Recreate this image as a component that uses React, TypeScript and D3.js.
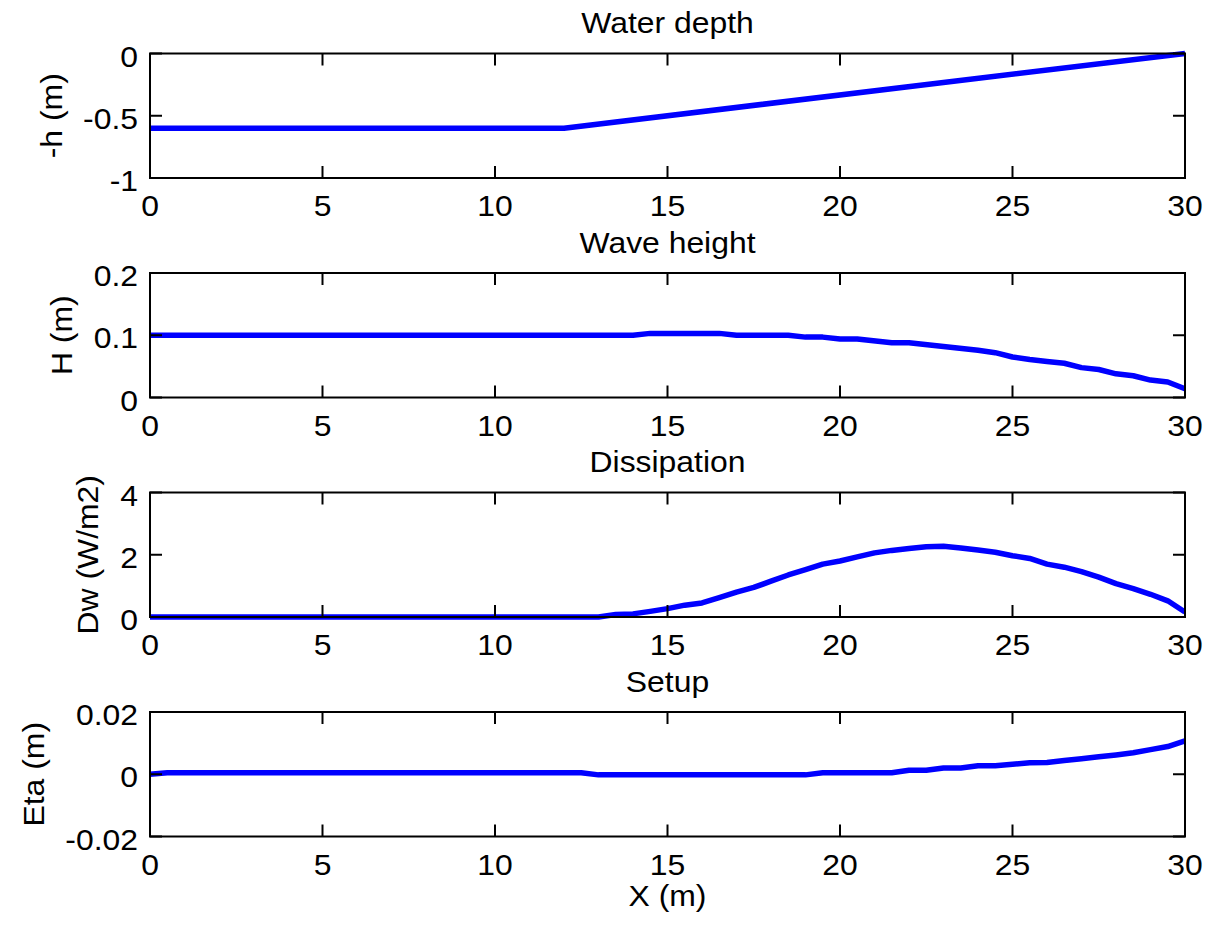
import React from "react";
import * as d3 from "d3";

// ---------- data ----------
const depthX = [0, 12, 30];
const depthY = [-0.6, -0.6, 0];

const heightX = [0, 14, 14.5, 16.5, 17, 18.5, 19, 19.5, 20, 20.5, 21.5, 22, 23, 24, 24.5, 25, 25.5, 26, 26.5, 27, 27.5, 28, 28.5, 29, 29.5, 30];
const heightY = [0.1, 0.1, 0.103, 0.103, 0.1, 0.1, 0.097, 0.097, 0.094, 0.094, 0.088, 0.088, 0.082, 0.076, 0.072, 0.065, 0.061, 0.058, 0.055, 0.048, 0.045, 0.038, 0.035, 0.028, 0.025, 0.014];

const dissX = [0, 13, 13.5, 14, 14.5, 15, 15.5, 16, 16.5, 17, 17.5, 18, 18.5, 19, 19.5, 20, 20.5, 21, 21.5, 22, 22.5, 23, 23.5, 24, 24.5, 25, 25.5, 26, 26.5, 27, 27.5, 28, 28.5, 29, 29.5, 30];
const dissY = [0, 0, 0.08, 0.1, 0.18, 0.27, 0.38, 0.45, 0.62, 0.8, 0.95, 1.15, 1.35, 1.52, 1.7, 1.8, 1.93, 2.06, 2.14, 2.2, 2.26, 2.27, 2.22, 2.15, 2.08, 1.97, 1.88, 1.7, 1.6, 1.46, 1.28, 1.07, 0.91, 0.73, 0.52, 0.16];

const setupX = [0, 0.5, 12.5, 13, 19, 19.5, 21.5, 22, 22.5, 23, 23.5, 24, 24.5, 25, 25.5, 26, 26.5, 27, 27.5, 28, 28.5, 29, 29.5, 30];
const setupY = [0, 0.0005, 0.0005, -0.0002, -0.0002, 0.0005, 0.0005, 0.0013, 0.0013, 0.002, 0.002, 0.0027, 0.0027, 0.0032, 0.0037, 0.0038, 0.0044, 0.005, 0.0056, 0.0062, 0.0069, 0.0079, 0.0089, 0.0107];

const xTicks = [0, 5, 10, 15, 20, 25, 30];
const xTickLabels = ["0", "5", "10", "15", "20", "25", "30"];

const titles = ["Water depth", "Wave height", "Dissipation", "Setup"];
const yLabels = ["-h (m)", "H (m)", "Dw (W/m2)", "Eta (m)"];
const yDomains: [number, number][] = [[-1, 0], [0, 0.2], [0, 4], [-0.02, 0.02]];
const yTicks = [[-1, -0.5, 0], [0, 0.1, 0.2], [0, 2, 4], [-0.02, 0, 0.02]];
const yTickLabels = [["-1", "-0.5", "0"], ["0", "0.1", "0.2"], ["0", "2", "4"], ["-0.02", "0", "0.02"]];
const seriesX = [depthX, heightX, dissX, setupX];
const seriesY = [depthY, heightY, dissY, setupY];

// ---------- layout ----------
const W = 1213;
const H = 926;
const left = 150;
const right = 1185;
const panelTops = [53.5, 273, 492.5, 712];
const panelH = 124.5;
const yLabelX = [52, 62, 88, 34];
const FONT = "Liberation Sans, Arial, Helvetica, sans-serif";
const FS = 29;
const SX = 1.1;
const TICK = 12;

function T({
  x,
  y,
  anchor,
  rotate = 0,
  central = false,
  children,
}: {
  x: number;
  y: number;
  anchor: "start" | "middle" | "end";
  rotate?: number;
  central?: boolean;
  children: React.ReactNode;
}) {
  return (
    <text
      transform={`translate(${x},${y}) rotate(${rotate}) scale(${SX},1)`}
      textAnchor={anchor}
      dominantBaseline={central ? "central" : undefined}
      fontFamily={FONT}
      fontSize={FS}
      fill="#000"
    >
      {children}
    </text>
  );
}

function Panel({ i }: { i: number }) {
  const top = panelTops[i];
  const bottom = top + panelH;
  const x = d3.scaleLinear().domain([0, 30]).range([left, right]);
  const y = d3.scaleLinear().domain(yDomains[i]).range([bottom, top]);
  const pts = seriesX[i].map((v, k) => [v, seriesY[i][k]] as [number, number]);
  const line = d3
    .line<[number, number]>()
    .x((d) => x(d[0]))
    .y((d) => y(d[1]));
  const clipId = `clip${i}`;
  return (
    <g>
      <defs>
        <clipPath id={clipId}>
          <rect x={left - 1} y={top - 4} width={right - left + 2} height={panelH + 8} />
        </clipPath>
      </defs>
      <path
        d={line(pts) || ""}
        fill="none"
        stroke="#0000ff"
        strokeWidth={5.5}
        strokeLinejoin="round"
        clipPath={`url(#${clipId})`}
      />
      <rect x={left} y={top} width={right - left} height={panelH} fill="none" stroke="#000" strokeWidth={2} />
      {xTicks.map((t, k) => (
        <g key={`xt${k}`}>
          <line x1={x(t)} x2={x(t)} y1={bottom} y2={bottom - TICK} stroke="#000" strokeWidth={2} />
          <line x1={x(t)} x2={x(t)} y1={top} y2={top + TICK} stroke="#000" strokeWidth={2} />
          <T x={x(t)} y={bottom + 38} anchor="middle">
            {xTickLabels[k]}
          </T>
        </g>
      ))}
      {yTicks[i].map((t, k) => (
        <g key={`yt${k}`}>
          <line x1={left} x2={left + TICK} y1={y(t)} y2={y(t)} stroke="#000" strokeWidth={2} />
          <line x1={right} x2={right - TICK} y1={y(t)} y2={y(t)} stroke="#000" strokeWidth={2} />
          <T x={left - 12} y={y(t) + 13} anchor="end">
            {yTickLabels[i][k]}
          </T>
        </g>
      ))}
      <T x={(left + right) / 2} y={top - 20.5} anchor="middle">
        {titles[i]}
      </T>
      <T x={yLabelX[i]} y={(top + bottom) / 2} anchor="middle" rotate={-90} central>
        {yLabels[i]}
      </T>
    </g>
  );
}

export default function App() {
  return (
    <svg
      width={W}
      height={H}
      viewBox={`0 0 ${W} ${H}`}
      style={{ position: "absolute", left: 0, top: 0, background: "#fff" }}
    >
      <rect x={0} y={0} width={W} height={H} fill="#fff" />
      {[0, 1, 2, 3].map((i) => (
        <Panel key={i} i={i} />
      ))}
      <T x={(left + right) / 2} y={906} anchor="middle">
        X (m)
      </T>
    </svg>
  );
}
